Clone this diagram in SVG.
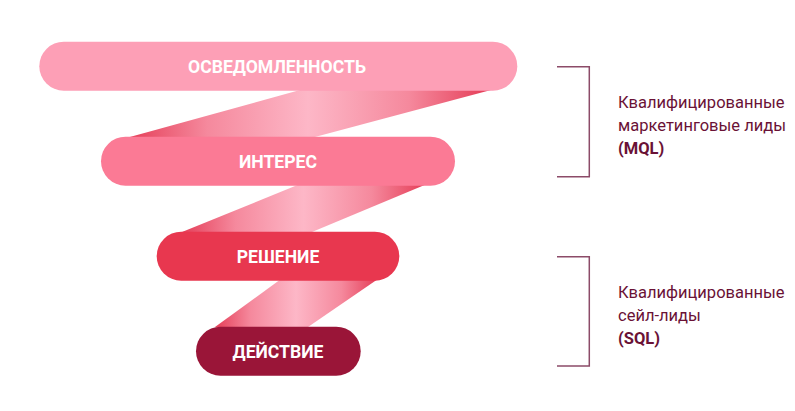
<svg xmlns="http://www.w3.org/2000/svg" width="795" height="411" viewBox="0 0 795 411">
<defs>
<style>
.pill-text{font-family:Roboto,"Liberation Sans",sans-serif;font-weight:700;font-size:17.6px;fill:#ffffff;text-anchor:middle}
.side{font-family:Roboto,"Liberation Sans",sans-serif;font-size:16.5px;fill:#6a1236}
.side.b{font-weight:700}
.bracket{fill:none;stroke:#8c4b68;stroke-width:1.5}
</style>
<linearGradient id="g1" gradientUnits="userSpaceOnUse" x1="128" y1="0" x2="488" y2="0">
<stop offset="0" stop-color="#e53e58"/><stop offset="0.22" stop-color="#f5899d"/><stop offset="0.5" stop-color="#fdb7c7"/><stop offset="0.78" stop-color="#f5899d"/><stop offset="1" stop-color="#e53e58"/>
</linearGradient>
<linearGradient id="g2" gradientUnits="userSpaceOnUse" x1="182" y1="0" x2="425" y2="0">
<stop offset="0" stop-color="#e53e58"/><stop offset="0.22" stop-color="#f5899d"/><stop offset="0.5" stop-color="#fdb7c7"/><stop offset="0.78" stop-color="#f5899d"/><stop offset="1" stop-color="#e53e58"/>
</linearGradient>
<linearGradient id="g3" gradientUnits="userSpaceOnUse" x1="215" y1="0" x2="377" y2="0">
<stop offset="0" stop-color="#e53e58"/><stop offset="0.22" stop-color="#f5899d"/><stop offset="0.5" stop-color="#fdb7c7"/><stop offset="0.78" stop-color="#f5899d"/><stop offset="1" stop-color="#e53e58"/>
</linearGradient>
</defs>
<rect width="795" height="411" fill="#ffffff"/>
<g id="connectors">
<polygon points="300,90 491,90 313,137.5 128,137.5" fill="url(#g1)"/>
<polygon points="300,184 427,184 312,232 182,232" fill="url(#g2)"/>
<polygon points="281,279 378,279 308,327 215,327" fill="url(#g3)"/>
</g>
<g id="awareness">
<rect x="39.3" y="41.7" width="478" height="49" rx="24.5" fill="#fd9fb6"/>
<text class="pill-text" x="277" y="73">ОСВЕДОМЛЕННОСТЬ</text>
</g>
<g id="interest">
<rect x="101" y="136.7" width="354" height="49" rx="24.5" fill="#fb7a95"/>
<text class="pill-text" x="278" y="168">ИНТЕРЕС</text>
</g>
<g id="decision">
<rect x="156.7" y="231.7" width="242.6" height="49" rx="24.5" fill="#e8374f"/>
<text class="pill-text" x="278" y="263">РЕШЕНИЕ</text>
</g>
<g id="action">
<rect x="196" y="326.7" width="164.7" height="49" rx="24.5" fill="#9a1538"/>
<text class="pill-text" x="278" y="358">ДЕЙСТВИЕ</text>
</g>
<g id="mql">
<path class="bracket" d="M557,66.7 H589.3 V176.7 H557"/>
<text class="side" x="618" y="108">Квалифицированные</text>
<text class="side" x="618" y="131">маркетинговые лиды</text>
<text class="side b" x="618" y="154">(MQL)</text>
</g>
<g id="sql">
<path class="bracket" d="M557,256.7 H589.3 V366 H557"/>
<text class="side" x="618" y="298">Квалифицированные</text>
<text class="side" x="618" y="321">сейл-лиды</text>
<text class="side b" x="618" y="344">(SQL)</text>
</g>
</svg>
